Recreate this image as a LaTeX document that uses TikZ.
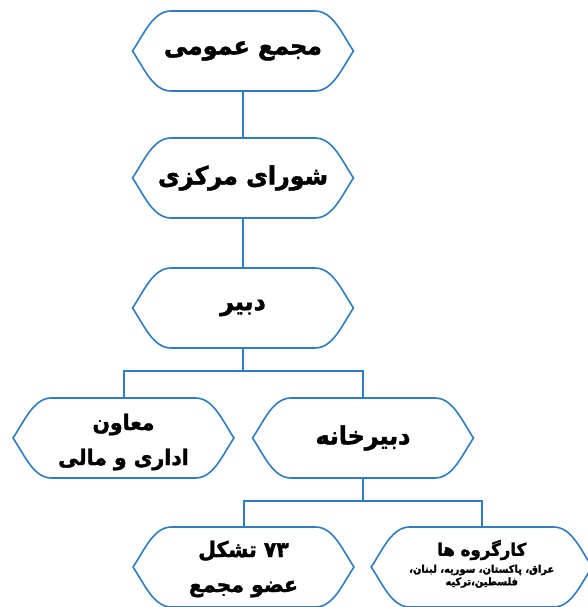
\documentclass[tikz,border=0pt]{standalone}
\usepackage{fontspec}
\newfontfamily\fafont[Script=Arabic, FakeBold=1.8, FakeStretch=0.95]{DejaVu Sans Bold}
\TeXXeTstate=1
\usetikzlibrary{positioning}
\definecolor{chartblue}{RGB}{46,125,196}
\tikzset{
  hexnode/.style={minimum width=221pt, minimum height=80pt, inner sep=0pt,
    align=center, font=\fafont\fontsize{25}{34}\selectfont},
  twoline/.style={font=\fafont\fontsize{21.5}{35}\selectfont},
  hexline/.style={draw=chartblue, line width=1.6pt, fill=white},
  link/.style={draw=chartblue, line width=2pt},
  smalltxt/.style={font=\fafont\fontsize{10.4}{12.5}\selectfont}
}
\newcommand{\rl}[1]{\beginR #1\endR}
\begin{document}
\begin{tikzpicture}[x=1pt,y=-1pt]
  \useasboundingbox (0,0) rectangle (588,607);
  % boxes
  \node[hexnode] (assembly) at (243,51) {};
  \node[hexnode] (council) at (243,178) {};
  \node[hexnode] (secretary) at (243,308) {};
  \node[hexnode] (deputy) at (123.5,438) {};
  \node[hexnode] (office) at (363,438) {};
  \node[hexnode] (members) at (243.5,567) {};
  \node[hexnode] (groups) at (481.7,567) {};
  % connectors
  \coordinate (split1) at (243,371);
  \coordinate (split2) at (363,501);
  \draw[link] (assembly) -- (council);
  \draw[link] (council) -- (secretary);
  \draw[link] (secretary.south) -- (split1) -| (deputy.north);
  \draw[link] (split1) -| (office.north);
  \draw[link] (office.south) -- (split2) -| (members.north);
  \draw[link] (split2) -| (groups.north);
  % outlines
  \foreach \n in {assembly,council,secretary,deputy,office,members,groups}
    \draw[hexline, shift={(\n.center)}] (-110.5,0)
      .. controls (-99,-17) and (-90,-40) .. (-72,-40) -- (72,-40)
      .. controls (90,-40) and (99,-17) .. (110.5,0)
      .. controls (99,17) and (90,40) .. (72,40) -- (-72,40)
      .. controls (-90,40) and (-99,17) .. cycle;
  % labels
  \node[hexnode] (assemblytxt) at (assembly) {\rl{مجمع عمومی}};
  \node[hexnode] (counciltxt) at (council) {\rl{شورای مرکزی}};
  \node[hexnode] (secretarytxt) at (secretary) {\rl{دبیر}};
  \node[hexnode, twoline] (deputytxt) at ([yshift=-4pt]deputy) {\rl{معاون}\\\rl{اداری و مالی}};
  \node[hexnode] (officetxt) at (office) {\rl{دبیرخانه}};
  \node[hexnode, twoline] (memberstxt) at ([yshift=-2pt]members) {\rl{۷۳ تشکل}\\\rl{عضو مجمع}};
  \node[hexnode, minimum height=0pt, font=\fafont\fontsize{17.5}{20}\selectfont]
    (groupstxt) at (481.7,550) {\rl{کارگروه ها}};
  \node[smalltxt, align=center, below=1pt of groupstxt] (countries)
    {\rl{عراق، پاکستان، سوریه، لبنان،}\\\rl{فلسطین،ترکیه}};
\end{tikzpicture}
\end{document}
